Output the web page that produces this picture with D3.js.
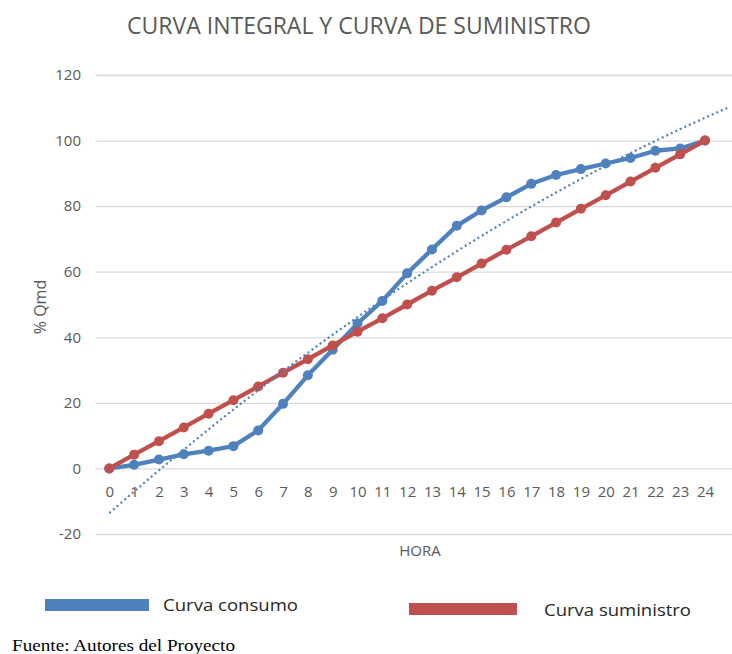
<!DOCTYPE html>
<html>
<head>
<meta charset="utf-8">
<script src="https://cdn.jsdelivr.net/npm/d3@7"></script>
<style>
  body { margin: 0; background: #fff; }
  svg { display: block; }
</style>
</head>
<body>
<div id="chart"></div>
<script>
// Data
const horas = [0, 1, 2, 3, 4, 5, 6, 7, 8, 9, 10, 11, 12, 13, 14, 15, 16, 17, 18, 19, 20, 21, 22, 23, 24];
const consumo = [0, 1.1, 2.7, 4.3, 5.4, 6.8, 11.6, 19.7, 28.4, 36.2, 44.2, 51.1, 59.5, 66.8, 74.0, 78.7, 82.7, 86.8, 89.5, 91.3, 93.0, 94.7, 96.9, 97.6, 100];
const suministro = [0, 4.2, 8.3, 12.5, 16.7, 20.8, 25.0, 29.2, 33.3, 37.5, 41.7, 45.8, 50.0, 54.2, 58.3, 62.5, 66.7, 70.8, 75.0, 79.2, 83.3, 87.5, 91.7, 95.8, 100];
const yTicks = [-20, 0, 20, 40, 60, 80, 100, 120];

const W = 732, H = 654;
const plotLeft = 96, plotRight = 732;
const font = "'Open Sans', sans-serif";

const svg = d3.select("#chart").append("svg")
    .attr("width", W)
    .attr("height", H);

// Scales
const x = d3.scaleLinear().domain([0, 24]).range([109.3, 705]);
const y = d3.scaleLinear().domain([-20, 120]).range([534, 75]);

// Title
svg.append("text")
    .attr("x", 359).attr("y", 34)
    .attr("text-anchor", "middle")
    .style("font-family", font)
    .style("font-size", "23px")
    .style("fill", "#595959")
    .text("CURVA INTEGRAL Y CURVA DE SUMINISTRO");

// Y gridlines and labels
const yAxis = svg.append("g")
    .attr("transform", "translate(" + plotLeft + ",0)")
    .call(d3.axisLeft(y).tickValues(yTicks).tickSize(-(plotRight - plotLeft)).tickPadding(15)
        .tickFormat(d => String(d)));
yAxis.select(".domain").remove();
yAxis.selectAll("line").attr("stroke", "#d9d9d9").attr("stroke-width", 1.3);
yAxis.selectAll("text")
    .style("font-family", font)
    .style("font-size", "15px")
    .style("fill", "#595959");

// X labels
const xAxis = svg.append("g")
    .attr("transform", "translate(0," + y(0) + ")")
    .call(d3.axisBottom(x).tickValues(horas).tickSize(0).tickPadding(18).tickFormat(d3.format("d")));
xAxis.select(".domain").remove();
xAxis.selectAll("text")
    .style("font-family", font)
    .style("font-size", "15px")
    .style("fill", "#595959");

// Axis titles
svg.append("text")
    .attr("x", 420).attr("y", 556)
    .attr("text-anchor", "middle")
    .style("font-family", font)
    .style("font-size", "15px")
    .style("fill", "#595959")
    .text("HORA");

svg.append("text")
    .attr("transform", "translate(46,307) rotate(-90)")
    .attr("text-anchor", "middle")
    .style("font-family", font)
    .style("font-size", "16px")
    .style("fill", "#595959")
    .text("% Qmd");

// Series
const series = [
    {name: "Curva consumo", values: consumo, color: "#4f81bd"},
    {name: "Curva suministro", values: suministro, color: "#c0504d"}
];

const line = d3.line()
    .x(d => x(d[0]))
    .y(d => y(d[1]));

series.forEach(s => {
    const pts = horas.map((h, i) => [h, s.values[i]]);
    svg.append("path")
        .datum(pts)
        .attr("fill", "none")
        .attr("stroke", s.color)
        .attr("stroke-width", 4.3)
        .attr("stroke-linejoin", "round")
        .attr("d", line);
    svg.append("g").selectAll("circle")
        .data(pts)
        .enter().append("circle")
        .attr("cx", d => x(d[0]))
        .attr("cy", d => y(d[1]))
        .attr("r", 5)
        .attr("fill", s.color);
});

// Polynomial (order 2) trendline of consumo, least squares
const mx = d3.mean(horas);
const my = d3.mean(consumo);
const ts = horas.map(h => h - mx);
const mt2 = d3.mean(ts, t => t * t);
const B = d3.sum(ts, (t, i) => t * consumo[i]) / d3.sum(ts, t => t * t);
const C = d3.sum(ts, (t, i) => (t * t - mt2) * consumo[i]) / d3.sum(ts, t => (t * t - mt2) * (t * t - mt2));
const trend = h => my + B * (h - mx) + C * ((h - mx) * (h - mx) - mt2);
const trendPts = d3.range(0, 25.001, 0.25).map(h => [h, trend(h)]);

svg.append("path")
    .datum(trendPts)
    .attr("fill", "none")
    .attr("stroke", "#4f81bd")
    .attr("stroke-width", 2.2)
    .attr("stroke-dasharray", "2,3")
    .attr("d", line);

// Legend
svg.append("rect").attr("x", 45).attr("y", 599).attr("width", 104).attr("height", 12).attr("fill", "#4f81bd");
svg.append("text")
    .attr("x", 163).attr("y", 611)
    .attr("textLength", 135).attr("lengthAdjust", "spacingAndGlyphs")
    .style("font-family", font)
    .style("font-size", "16px")
    .style("fill", "#262626")
    .text("Curva consumo");

svg.append("rect").attr("x", 409).attr("y", 603).attr("width", 108).attr("height", 12).attr("fill", "#c0504d");
svg.append("text")
    .attr("x", 544).attr("y", 616)
    .attr("textLength", 147).attr("lengthAdjust", "spacingAndGlyphs")
    .style("font-family", font)
    .style("font-size", "16px")
    .style("fill", "#262626")
    .text("Curva suministro");

// Source
svg.append("text")
    .attr("x", 12).attr("y", 651)
    .attr("textLength", 223).attr("lengthAdjust", "spacingAndGlyphs")
    .style("font-family", "'Liberation Serif', 'Times New Roman', serif")
    .style("font-size", "16px")
    .style("fill", "#000")
    .text("Fuente: Autores del Proyecto");
</script>
</body>
</html>
